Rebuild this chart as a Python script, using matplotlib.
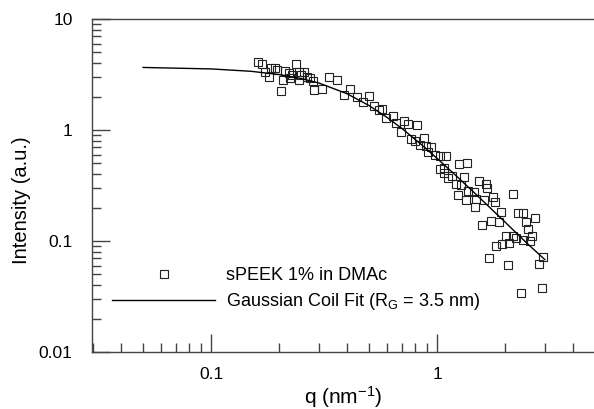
import matplotlib
matplotlib.use("Agg")
import matplotlib.pyplot as plt
import matplotlib.ticker as ticker

plt.rcParams['font.family'] = ['Liberation Sans', 'DejaVu Sans']
plt.rcParams['mathtext.fontset'] = 'custom'
plt.rcParams['mathtext.rm'] = 'Liberation Sans'
plt.rcParams['mathtext.it'] = 'Liberation Sans:italic'

# --- data ---
q_data = [0.161, 0.168, 0.174, 0.181, 0.185, 0.191, 0.196, 0.204, 0.209, 0.213,
          0.221, 0.224, 0.229, 0.238, 0.244, 0.245, 0.250, 0.258, 0.265, 0.274,
          0.281, 0.286, 0.310, 0.334, 0.362, 0.388, 0.412, 0.442, 0.471, 0.498,
          0.528, 0.553, 0.573, 0.597, 0.636, 0.657, 0.713, 0.740, 0.690, 0.816,
          0.769, 0.801, 0.874, 0.843, 0.896, 0.938, 0.912, 0.984, 1.033, 1.092,
          1.033, 1.076, 1.070, 1.123, 1.161, 1.250, 1.362, 1.209, 1.276, 1.312,
          1.234, 1.342, 1.376, 1.452, 1.493, 1.471, 1.539, 1.649, 1.663, 1.607,
          1.767, 1.797, 2.158, 1.910, 1.738, 1.873, 1.580, 2.282, 2.400, 2.706,
          2.475, 2.527, 2.630, 2.583, 2.010, 2.169, 2.240, 2.072, 1.935, 1.815,
          2.396, 1.700, 2.062, 2.818, 2.948, 2.348, 2.905]
i_data = [4.08, 3.97, 3.32, 3.01, 3.62, 3.62, 3.46, 2.24, 2.82, 3.37,
          3.23, 2.93, 3.14, 3.92, 3.33, 2.82, 3.13, 3.30, 3.00, 2.97,
          2.74, 2.27, 2.35, 3.03, 2.82, 2.08, 2.34, 1.98, 1.78, 2.03,
          1.63, 1.51, 1.56, 1.28, 1.35, 1.15, 1.21, 1.13, 0.950, 1.12,
          0.833, 0.796, 0.847, 0.730, 0.718, 0.703, 0.634, 0.598, 0.589, 0.589,
          0.445, 0.459, 0.412, 0.368, 0.389, 0.489, 0.501, 0.325, 0.321, 0.376,
          0.262, 0.232, 0.283, 0.279, 0.241, 0.203, 0.347, 0.328, 0.303, 0.235,
          0.250, 0.226, 0.265, 0.182, 0.150, 0.148, 0.140, 0.177, 0.177, 0.160,
          0.148, 0.127, 0.112, 0.101, 0.111, 0.112, 0.106, 0.0969, 0.0930, 0.0905,
          0.103, 0.070, 0.0608, 0.0623, 0.0715, 0.0339, 0.0377]

fit_q = [0.05, 0.1, 0.15, 0.2, 0.25, 0.3, 0.4, 0.5, 0.6, 0.7, 0.85, 1.0,
         1.2, 1.5, 2.0, 2.5, 3.0]
fit_i = [3.66, 3.55, 3.38, 3.16, 2.91, 2.65, 2.12, 1.66, 1.30, 1.03, 0.742, 0.555,
         0.396, 0.259, 0.148, 0.0954, 0.068]

data_label = 'sPEEK 1% in DMAc'
fit_label = r'Gaussian Coil Fit (R$_\mathrm{G}$ = 3.5 nm)'

fig = plt.figure(figsize=(5.94, 4.09), dpi=100)
ax = fig.add_axes([92 / 594, 57 / 409, 502 / 594, 333 / 409])

ax.plot(q_data, i_data, linestyle='none', marker='s', markersize=5.3,
        markerfacecolor='none', markeredgecolor='#222222', markeredgewidth=0.8,
        label=data_label)
ax.plot(fit_q, fit_i, color='black', linewidth=1.0, label=fit_label)

ax.set_xscale('log')
ax.set_yscale('log')
ax.set_xlim(0.0297, 4.95)
ax.set_ylim(0.01, 10)

ax.spines['right'].set_visible(False)
for s in ['left', 'top', 'bottom']:
    ax.spines[s].set_color('#444444')
    ax.spines[s].set_linewidth(1.0)

ax.tick_params(which='both', direction='in', top=False, right=False,
               color='#444444', width=1.0)
ax.tick_params(axis='y', which='major', length=13, pad=14, labelsize=12.5)
ax.tick_params(axis='y', which='minor', length=6.5)
ax.tick_params(axis='x', which='major', length=13, pad=11, labelsize=12.5)
ax.tick_params(axis='x', which='minor', length=6.5)

ax.xaxis.set_major_locator(ticker.FixedLocator([0.1, 1]))
ax.xaxis.set_major_formatter(ticker.FixedFormatter(['0.1', '1']))
ax.xaxis.set_minor_locator(ticker.LogLocator(base=10, subs=range(2, 10)))
ax.xaxis.set_minor_formatter(ticker.NullFormatter())
ax.yaxis.set_major_locator(ticker.FixedLocator([0.01, 0.1, 1, 10]))
ax.yaxis.set_major_formatter(ticker.FixedFormatter(['0.01', '0.1', '1', '10']))
ax.yaxis.set_minor_locator(ticker.LogLocator(base=10, subs=range(2, 10)))
ax.yaxis.set_minor_formatter(ticker.NullFormatter())

ax.set_xlabel(r'q (nm$^{\mathrm{-1}}$)', fontsize=15)
ax.set_ylabel('Intensity (a.u.)', fontsize=14.5)
ax.xaxis.set_label_coords(0.5, -0.095)
ax.yaxis.set_label_coords(-0.122, 0.455)

ax.legend(loc='upper left', bbox_to_anchor=(0.04, 0.255), frameon=False,
          fontsize=13, handlelength=5.7, handletextpad=0.6, labelspacing=0.4,
          numpoints=1, borderpad=0, borderaxespad=0)

fig.savefig('out.png', dpi=100)
